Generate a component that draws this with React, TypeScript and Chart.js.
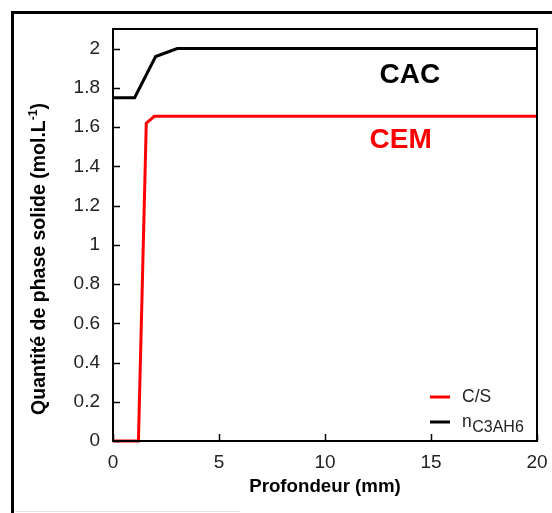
import { useEffect, useRef } from "react";
import { Chart, registerables } from "chart.js";

Chart.register(...registerables);

const FONT = '"Liberation Sans", Arial, Helvetica, sans-serif';

// Data (depth in mm, amount in mol/L)
const csDepth = [0, 1.2, 1.57, 1.95, 20];
const csAmount = [0, 0, 1.62, 1.655, 1.655];
const c3ah6Depth = [0, 1.02, 2.01, 3.03, 20];
const c3ah6Amount = [1.75, 1.75, 1.96, 2.0, 2.0];
const seriesLabels = ["C/S", "n_C3AH6"];
const seriesColors = ["#ff0000", "#000000"];
const annotationTexts = ["CAC", "CEM"];
const annotationColors = ["#000000", "#ff0000"];
const annotationX = [14.0, 13.57];
const annotationY = [1.863, 1.531];
const xTitle = "Profondeur (mm)";
const yTitleMain = "Quantité de phase solide (mol.L";
const yTitleSup = "-1";
const yTitleEnd = ")";

const decorPlugin = {
  id: "decor",
  beforeDraw(chart: any) {
    const ctx = chart.ctx;
    ctx.save();
    ctx.fillStyle = "#ffffff";
    ctx.fillRect(0, 0, chart.width, chart.height);
    ctx.strokeStyle = "#000";
    ctx.lineWidth = 3;
    ctx.beginPath();
    ctx.moveTo(12.5, chart.height);
    ctx.lineTo(12.5, 12.5);
    ctx.lineTo(chart.width, 12.5);
    ctx.stroke();
    ctx.strokeStyle = "#e2e2e2";
    ctx.lineWidth = 1;
    ctx.beginPath();
    ctx.moveTo(15, 511.5);
    ctx.lineTo(240, 511.5);
    ctx.stroke();
    ctx.restore();
  },
  afterDatasetsDraw(chart: any) {
    const ctx = chart.ctx;
    const ca = chart.chartArea;
    const xs = chart.scales.x;
    const ys = chart.scales.y;
    ctx.save();
    // plot frame
    ctx.strokeStyle = "#000";
    ctx.lineWidth = 2;
    ctx.strokeRect(ca.left, ca.top, ca.right - ca.left, ca.bottom - ca.top);
    // inward ticks
    ctx.lineWidth = 1.5;
    ys.ticks.forEach((t: any) => {
      const py = Math.round(ys.getPixelForValue(t.value)) + 0.5;
      ctx.beginPath();
      ctx.moveTo(ca.left, py);
      ctx.lineTo(ca.left + 7, py);
      ctx.stroke();
    });
    xs.ticks.forEach((t: any) => {
      const px = Math.round(xs.getPixelForValue(t.value)) + 0.5;
      ctx.beginPath();
      ctx.moveTo(px, ca.bottom);
      ctx.lineTo(px, ca.bottom - 7);
      ctx.stroke();
    });
    // annotations
    ctx.font = `bold 28px ${FONT}`;
    ctx.textAlign = "center";
    ctx.textBaseline = "middle";
    annotationTexts.forEach((txt, i) => {
      ctx.fillStyle = annotationColors[i];
      ctx.fillText(txt, xs.getPixelForValue(annotationX[i]), ys.getPixelForValue(annotationY[i]));
    });
    // y title
    ctx.save();
    ctx.translate(40, 259);
    ctx.rotate(-Math.PI / 2);
    ctx.fillStyle = "#000";
    ctx.textBaseline = "middle";
    ctx.textAlign = "left";
    const mainFont = `bold 19.5px ${FONT}`;
    const supFont = `bold 12px ${FONT}`;
    ctx.font = mainFont;
    const w1 = ctx.measureText(yTitleMain).width;
    const w3 = ctx.measureText(yTitleEnd).width;
    ctx.font = supFont;
    const w2 = ctx.measureText(yTitleSup).width;
    let sx = -(w1 + w2 + w3) / 2;
    ctx.font = mainFont;
    ctx.fillText(yTitleMain, sx, 0);
    sx += w1;
    ctx.font = supFont;
    ctx.fillText(yTitleSup, sx, -6);
    sx += w2;
    ctx.font = mainFont;
    ctx.fillText(yTitleEnd, sx, 0);
    ctx.restore();
    // legend
    const rows = [ca.bottom - 44, ca.bottom - 19];
    chart.data.datasets.forEach((ds: any, i: number) => {
      const yy = rows[i];
      ctx.strokeStyle = ds.borderColor;
      ctx.lineWidth = 3;
      ctx.beginPath();
      ctx.moveTo(ca.right - 107, yy);
      ctx.lineTo(ca.right - 87, yy);
      ctx.stroke();
      ctx.fillStyle = "#222";
      ctx.textAlign = "left";
      ctx.textBaseline = "middle";
      const parts = String(ds.label).split("_");
      ctx.font = `17.5px ${FONT}`;
      let tx = ca.right - 75;
      ctx.fillText(parts[0], tx, yy);
      if (parts[1]) {
        tx += ctx.measureText(parts[0]).width + 0.5;
        ctx.font = `16px ${FONT}`;
        ctx.fillText(parts[1], tx, yy + 6);
      }
    });
    ctx.restore();
  },
};

export default function App() {
  const ref = useRef<HTMLCanvasElement | null>(null);
  useEffect(() => {
    if (!ref.current) return;
    const chart = new Chart(ref.current, {
      type: "line",
      data: {
        datasets: [
          {
            label: seriesLabels[0],
            data: csDepth.map((d, i) => ({ x: d, y: csAmount[i] })),
            borderColor: seriesColors[0],
            backgroundColor: seriesColors[0],
            borderWidth: 3,
            pointRadius: 0,
            tension: 0,
            clip: false,
          },
          {
            label: seriesLabels[1],
            data: c3ah6Depth.map((d, i) => ({ x: d, y: c3ah6Amount[i] })),
            borderColor: seriesColors[1],
            backgroundColor: seriesColors[1],
            borderWidth: 3,
            pointRadius: 0,
            tension: 0,
            clip: false,
          },
        ],
      },
      options: {
        animation: false,
        responsive: false,
        devicePixelRatio: 1,
        layout: { padding: { top: 29, right: 15, left: 0, bottom: 0 } },
        plugins: { legend: { display: false }, tooltip: { enabled: false } },
        scales: {
          x: {
            type: "linear",
            min: 0,
            max: 20,
            grid: { display: false, drawTicks: false },
            border: { display: false },
            ticks: {
              stepSize: 5,
              padding: 10,
              color: "#222",
              font: { family: FONT, size: 19 },
              maxRotation: 0,
            },
            title: {
              display: true,
              text: xTitle,
              color: "#000",
              font: { family: FONT, size: 18.7, weight: "bold" },
              padding: { top: 0, bottom: 15 },
            },
            afterFit: (s: any) => {
              s.height = 72;
              s.paddingLeft = 0;
              s.paddingRight = 0;
            },
          },
          y: {
            type: "linear",
            min: 0,
            max: 2.1,
            grid: { display: false, drawTicks: false },
            border: { display: false },
            ticks: {
              stepSize: 0.2,
              includeBounds: false,
              padding: 13,
              color: "#222",
              font: { family: FONT, size: 19 },
              callback: (v: any) => String(Math.round(Number(v) * 10) / 10),
            },
            afterFit: (s: any) => {
              s.width = 113;
              s.paddingTop = 0;
              s.paddingBottom = 0;
            },
          },
        },
      },
      plugins: [decorPlugin],
    } as any);
    return () => chart.destroy();
  }, []);
  return (
    <div style={{ position: "fixed", left: 0, top: 0, width: 552, height: 513, background: "#fff" }}>
      <canvas ref={ref} width={552} height={513} style={{ display: "block" }} />
    </div>
  );
}
